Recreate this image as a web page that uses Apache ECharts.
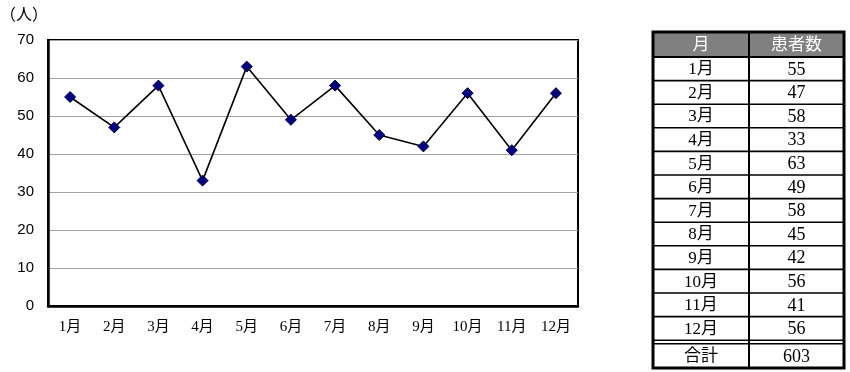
<!DOCTYPE html>
<html><head><meta charset="utf-8">
<script src="https://cdn.jsdelivr.net/npm/echarts@6/dist/echarts.min.js"></script>
<style>html,body{margin:0;padding:0;background:#fff}#c{width:850px;height:372px}</style>
</head><body><div id="c"></div>
<script>
const months = ['1月','2月','3月','4月','5月','6月','7月','8月','9月','10月','11月','12月'];
const patients = [55,47,58,33,63,49,58,45,42,56,41,56];
const yTicks = [0,10,20,30,40,50,60,70];
const tableHeader = ['月','患者数'];
const totalLabel = '合計';

const chart = echarts.init(document.getElementById('c'), null, {renderer:'canvas'});
const serif = '"Liberation Serif","DejaVu Serif","Noto Sans CJK JP",serif';
const sans = '"Liberation Sans",Arial,"Noto Sans CJK JP",sans-serif';

// table graphic
const tx0 = 653, tx1 = 749, tx2 = 844;
const ty0 = 32, headH = 25, rowH = 23.6;
const g = [];
const rowsTop = ty0 + headH;
const rowsBottom = rowsTop + months.length * rowH;
const totTop = rowsBottom + 3.5, totBottom = 368;
g.push({type:'rect', shape:{x:tx0, y:ty0, width:tx2-tx0, height:headH}, style:{fill:'#808080'}});
g.push({type:'text', style:{text:tableHeader[0], x:(tx0+tx1)/2, y:ty0+headH/2+1, fill:'#fff', font:'17px '+serif, align:'center', verticalAlign:'middle'}});
g.push({type:'text', style:{text:tableHeader[1], x:(tx1+tx2)/2, y:ty0+headH/2+1, fill:'#fff', font:'17px '+serif, align:'center', verticalAlign:'middle'}});
months.forEach((m,i)=>{
  const yc = rowsTop + i*rowH + rowH/2 + 1;
  g.push({type:'text', style:{text:m, x:(tx0+tx1)/2, y:yc, fill:'#000', font:'17px '+serif, align:'center', verticalAlign:'middle'}});
  g.push({type:'text', style:{text:String(patients[i]), x:(tx1+tx2)/2, y:yc, fill:'#000', font:'18px '+serif, align:'center', verticalAlign:'middle'}});
  if (i>0) g.push({type:'line', shape:{x1:tx0, y1:rowsTop+i*rowH, x2:tx2, y2:rowsTop+i*rowH}, style:{stroke:'#000', lineWidth:1.6}});
});
const total = patients.reduce((a,b)=>a+b,0);
g.push({type:'text', style:{text:totalLabel, x:(tx0+tx1)/2, y:(totTop+totBottom)/2+1, fill:'#000', font:'17px '+serif, align:'center', verticalAlign:'middle'}});
g.push({type:'text', style:{text:String(total), x:(tx1+tx2)/2, y:(totTop+totBottom)/2+1, fill:'#000', font:'18px '+serif, align:'center', verticalAlign:'middle'}});
g.push({type:'line', shape:{x1:tx0, y1:rowsTop, x2:tx2, y2:rowsTop}, style:{stroke:'#000', lineWidth:2}});
g.push({type:'line', shape:{x1:tx0, y1:rowsBottom, x2:tx2, y2:rowsBottom}, style:{stroke:'#000', lineWidth:1.6}});
g.push({type:'line', shape:{x1:tx0, y1:totTop, x2:tx2, y2:totTop}, style:{stroke:'#000', lineWidth:1.6}});
g.push({type:'line', shape:{x1:tx1, y1:ty0, x2:tx1, y2:totBottom}, style:{stroke:'#000', lineWidth:2}});
g.push({type:'rect', shape:{x:tx0, y:ty0, width:tx2-tx0, height:totBottom-ty0}, style:{fill:'none', stroke:'#000', lineWidth:3}});
g.push({type:'text', style:{text:'（人）', x:0, y:14, fill:'#000', font:'16px "Noto Sans CJK JP",sans-serif', align:'left', verticalAlign:'middle'}});

chart.setOption({
  animation:false,
  backgroundColor:'#fff',
  grid:{left:48, right:272, top:40, bottom:66, show:true, borderColor:'#000', borderWidth:2, backgroundColor:'#fff'},
  xAxis:{type:'category', data:months, boundaryGap:true,
    axisLine:{lineStyle:{color:'#000', width:2.5}},
    axisTick:{inside:true, length:5, lineStyle:{color:'#000', width:1}},
    axisLabel:{color:'#000', fontSize:15, fontFamily:serif, margin:14}},
  yAxis:{type:'value', min:yTicks[0], max:yTicks[yTicks.length-1], interval:10,
    axisLine:{show:true, lineStyle:{color:'#000', width:2.5}},
    axisTick:{show:false},
    splitLine:{lineStyle:{color:'#a0a0a0', width:1}},
    axisLabel:{color:'#000', fontSize:15, fontFamily:sans, margin:14}},
  series:[{type:'line', data:patients, symbol:'diamond', symbolSize:11,
    lineStyle:{color:'#000', width:1.6},
    itemStyle:{color:'#000080', borderColor:'#000040', borderWidth:1}}],
  graphic:g
});
</script></body></html>
